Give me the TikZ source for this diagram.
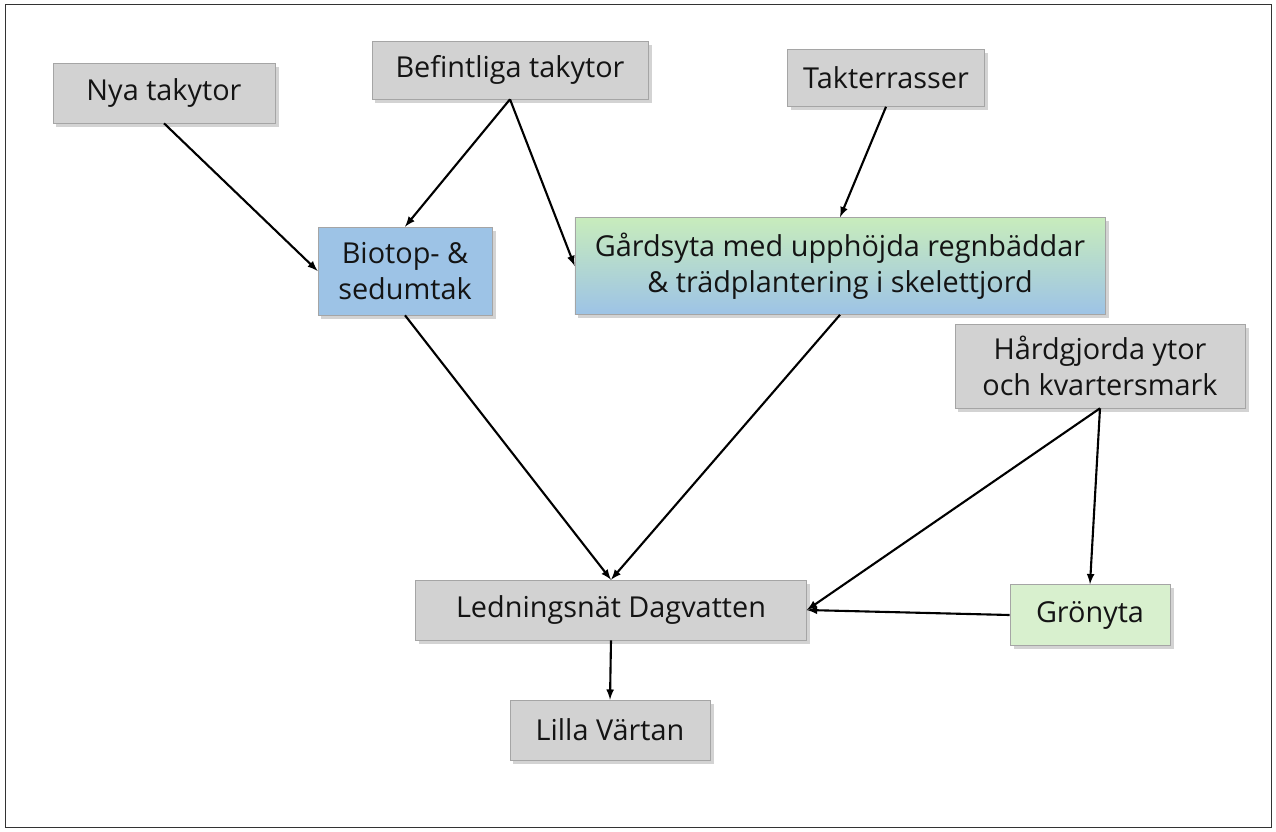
\documentclass[tikz,border=0pt]{standalone}
\usepackage{fontspec}
\setmainfont{Open Sans}
\usepackage{tikz}
\usetikzlibrary{arrows,positioning,shapes,shadows}

\definecolor{boxgray}{RGB}{210,210,210}
\definecolor{boxline}{RGB}{165,165,165}
\definecolor{roofblue}{RGB}{157,195,230}
\definecolor{lawngreen}{RGB}{216,240,206}
\definecolor{yardgreen}{RGB}{200,236,188}
\definecolor{inktext}{RGB}{20,20,20}

\begin{document}
\begin{tikzpicture}[
            x=0.025cm,y=-0.025cm,
            box/.style={draw=boxline,rectangle,align=center,text=inktext,
              font=\fontsize{20.5}{26}\selectfont,
              drop shadow={shadow xshift=2.5pt,shadow yshift=-2.5pt,opacity=.35}},
            grey/.style={box,fill=boxgray},
            every edge/.style={draw,->,>=latex,line width=1.5pt}
          ]
          \useasboundingbox (0,0) rectangle (1276,831);
          \draw[black!80] (5,4) rectangle (1271,827);

          %sources
          \node[grey,minimum width=5.55cm,minimum height=1.5cm] (nya) at (164,93) {Nya takytor};
          \node[grey,minimum width=6.9cm,minimum height=1.45cm] (bef) at (510,70) {Befintliga takytor};
          \node[grey,minimum width=4.925cm,minimum height=1.425cm] (tak) at (886,78) {Takterrasser};
          \node[grey,minimum width=7.25cm,minimum height=2.1cm] (hard) at (1100,366) {Hårdgjorda ytor\\och kvartersmark};

          %measures
          \node[box,fill=roofblue,minimum width=4.35cm,minimum height=2.2cm] (bio) at (405,271) {Biotop- \&\\sedumtak};
          \node[box,top color=yardgreen,bottom color=roofblue,minimum width=13.25cm,minimum height=2.425cm] (gard) at (840,266)
            {Gårdsyta med upphöjda regnbäddar\\\& trädplantering i skelettjord};
          \node[box,fill=lawngreen,minimum width=4cm,minimum height=1.525cm] (gron) at (1090,615) {Grönyta};

          %recipients
          \node[grey,minimum width=9.775cm,minimum height=1.5cm] (led) at (611,610) {Ledningsnät Dagvatten};
          \node[grey,minimum width=5cm,minimum height=1.5cm] (lilla) at (610,730) {Lilla Värtan};

          \path
          (nya.south) edge (bio.west)
          (bef.south) edge (bio.north)
          (bef.south) edge (gard.west)
          (tak.south) edge (gard.north)
          (bio.south) edge (led.north)
          (gard.south) edge (led.north)
          (hard.south) edge (led.east)
          (hard.south) edge (gron.north)
          (gron.west) edge (led.east)
          (led.south) edge (lilla.north)
          ;
\end{tikzpicture}
\end{document}
